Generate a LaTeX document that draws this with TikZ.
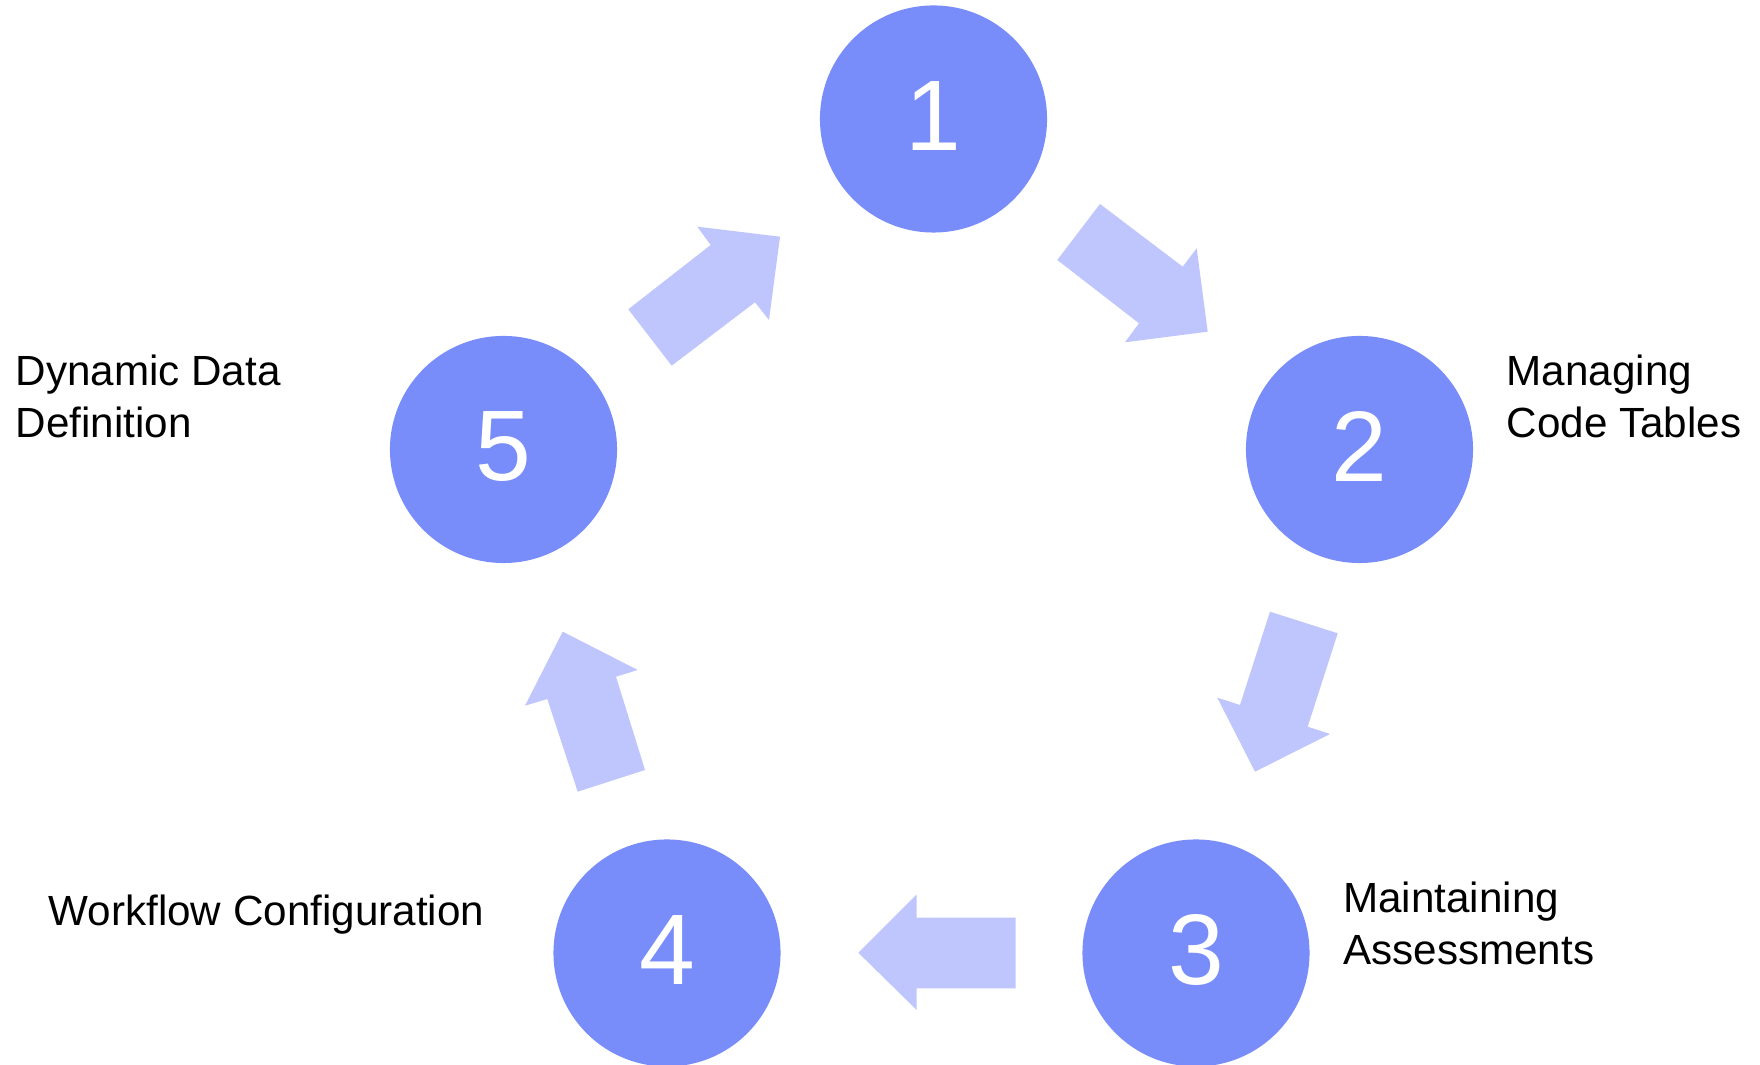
\documentclass[tikz,border=0pt]{standalone}
\usepackage{fontspec}
\setmainfont{Liberation Sans}
\definecolor{circblue}{RGB}{120,140,250}
\definecolor{arrblue}{RGB}{190,198,253}
\begin{document}
\begin{tikzpicture}[x=0.01cm,y=-0.01cm,
  stepcirc/.style={circle,fill=circblue,draw=none,minimum size=2.27cm,inner sep=0pt,
    text=white,font=\fontsize{28.5}{34}\selectfont},
  flow/.style={fill=arrblue,draw=none},
  lbl/.style={anchor=north west,inner sep=0pt,align=left,font=\fontsize{12}{14.8}\selectfont}]
\useasboundingbox (0,0) rectangle (1760,1065);
\fill[white] (0,0) rectangle (1760,1065);
% circles
\node[stepcirc] (n1) at (933.5,119) {\raisebox{0.06cm}{1}};
\node[stepcirc] (n2) at (1359.5,449.5) {\raisebox{0.06cm}{2}};
\node[stepcirc] (n3) at (1196,953) {\raisebox{0.06cm}{3}};
\node[stepcirc] (n4) at (667,953) {\raisebox{0.06cm}{4}};
\node[stepcirc] (n5) at (503.5,449.5) {\raisebox{0.06cm}{5}};
% block arrows
\fill[flow] (1100,204) -- (1057.3,260) -- (1139,323.3) -- (1125,342.3) -- (1207.7,331.7)
  -- (1196.7,248.3) -- (1182.7,266.7) -- cycle;
\fill[flow] (1270,611.7) -- (1337.7,633.3) -- (1307.7,726.7) -- (1330,734) -- (1255,771.7)
  -- (1217.3,697.7) -- (1240,705) -- cycle;
\fill[flow] (1015.7,917.7) -- (1015.7,988.3) -- (916.7,988.3) -- (916.7,1010) -- (858.3,952.7)
  -- (916.7,894.3) -- (916.7,917.7) -- cycle;
\fill[flow] (645,770) -- (577.7,791.7) -- (547.3,699) -- (525,705.7) -- (562.7,631.7)
  -- (637.7,670) -- (616,676.7) -- cycle;
\fill[flow] (671.7,365.7) -- (628.3,309.3) -- (710.7,245) -- (697.3,226.7) -- (780,236.7)
  -- (769,320) -- (755,302.3) -- cycle;
% labels
\node[lbl] (t5) at (15,354) {Dynamic Data\\Definition};
\node[lbl] (t2) at (1506,354) {Managing\\Code Tables};
\node[lbl] (t3) at (1342.5,881) {Maintaining\\Assessments};
\node[lbl] (t4) at (48,894) {Workflow Configuration};
\end{tikzpicture}
\end{document}
